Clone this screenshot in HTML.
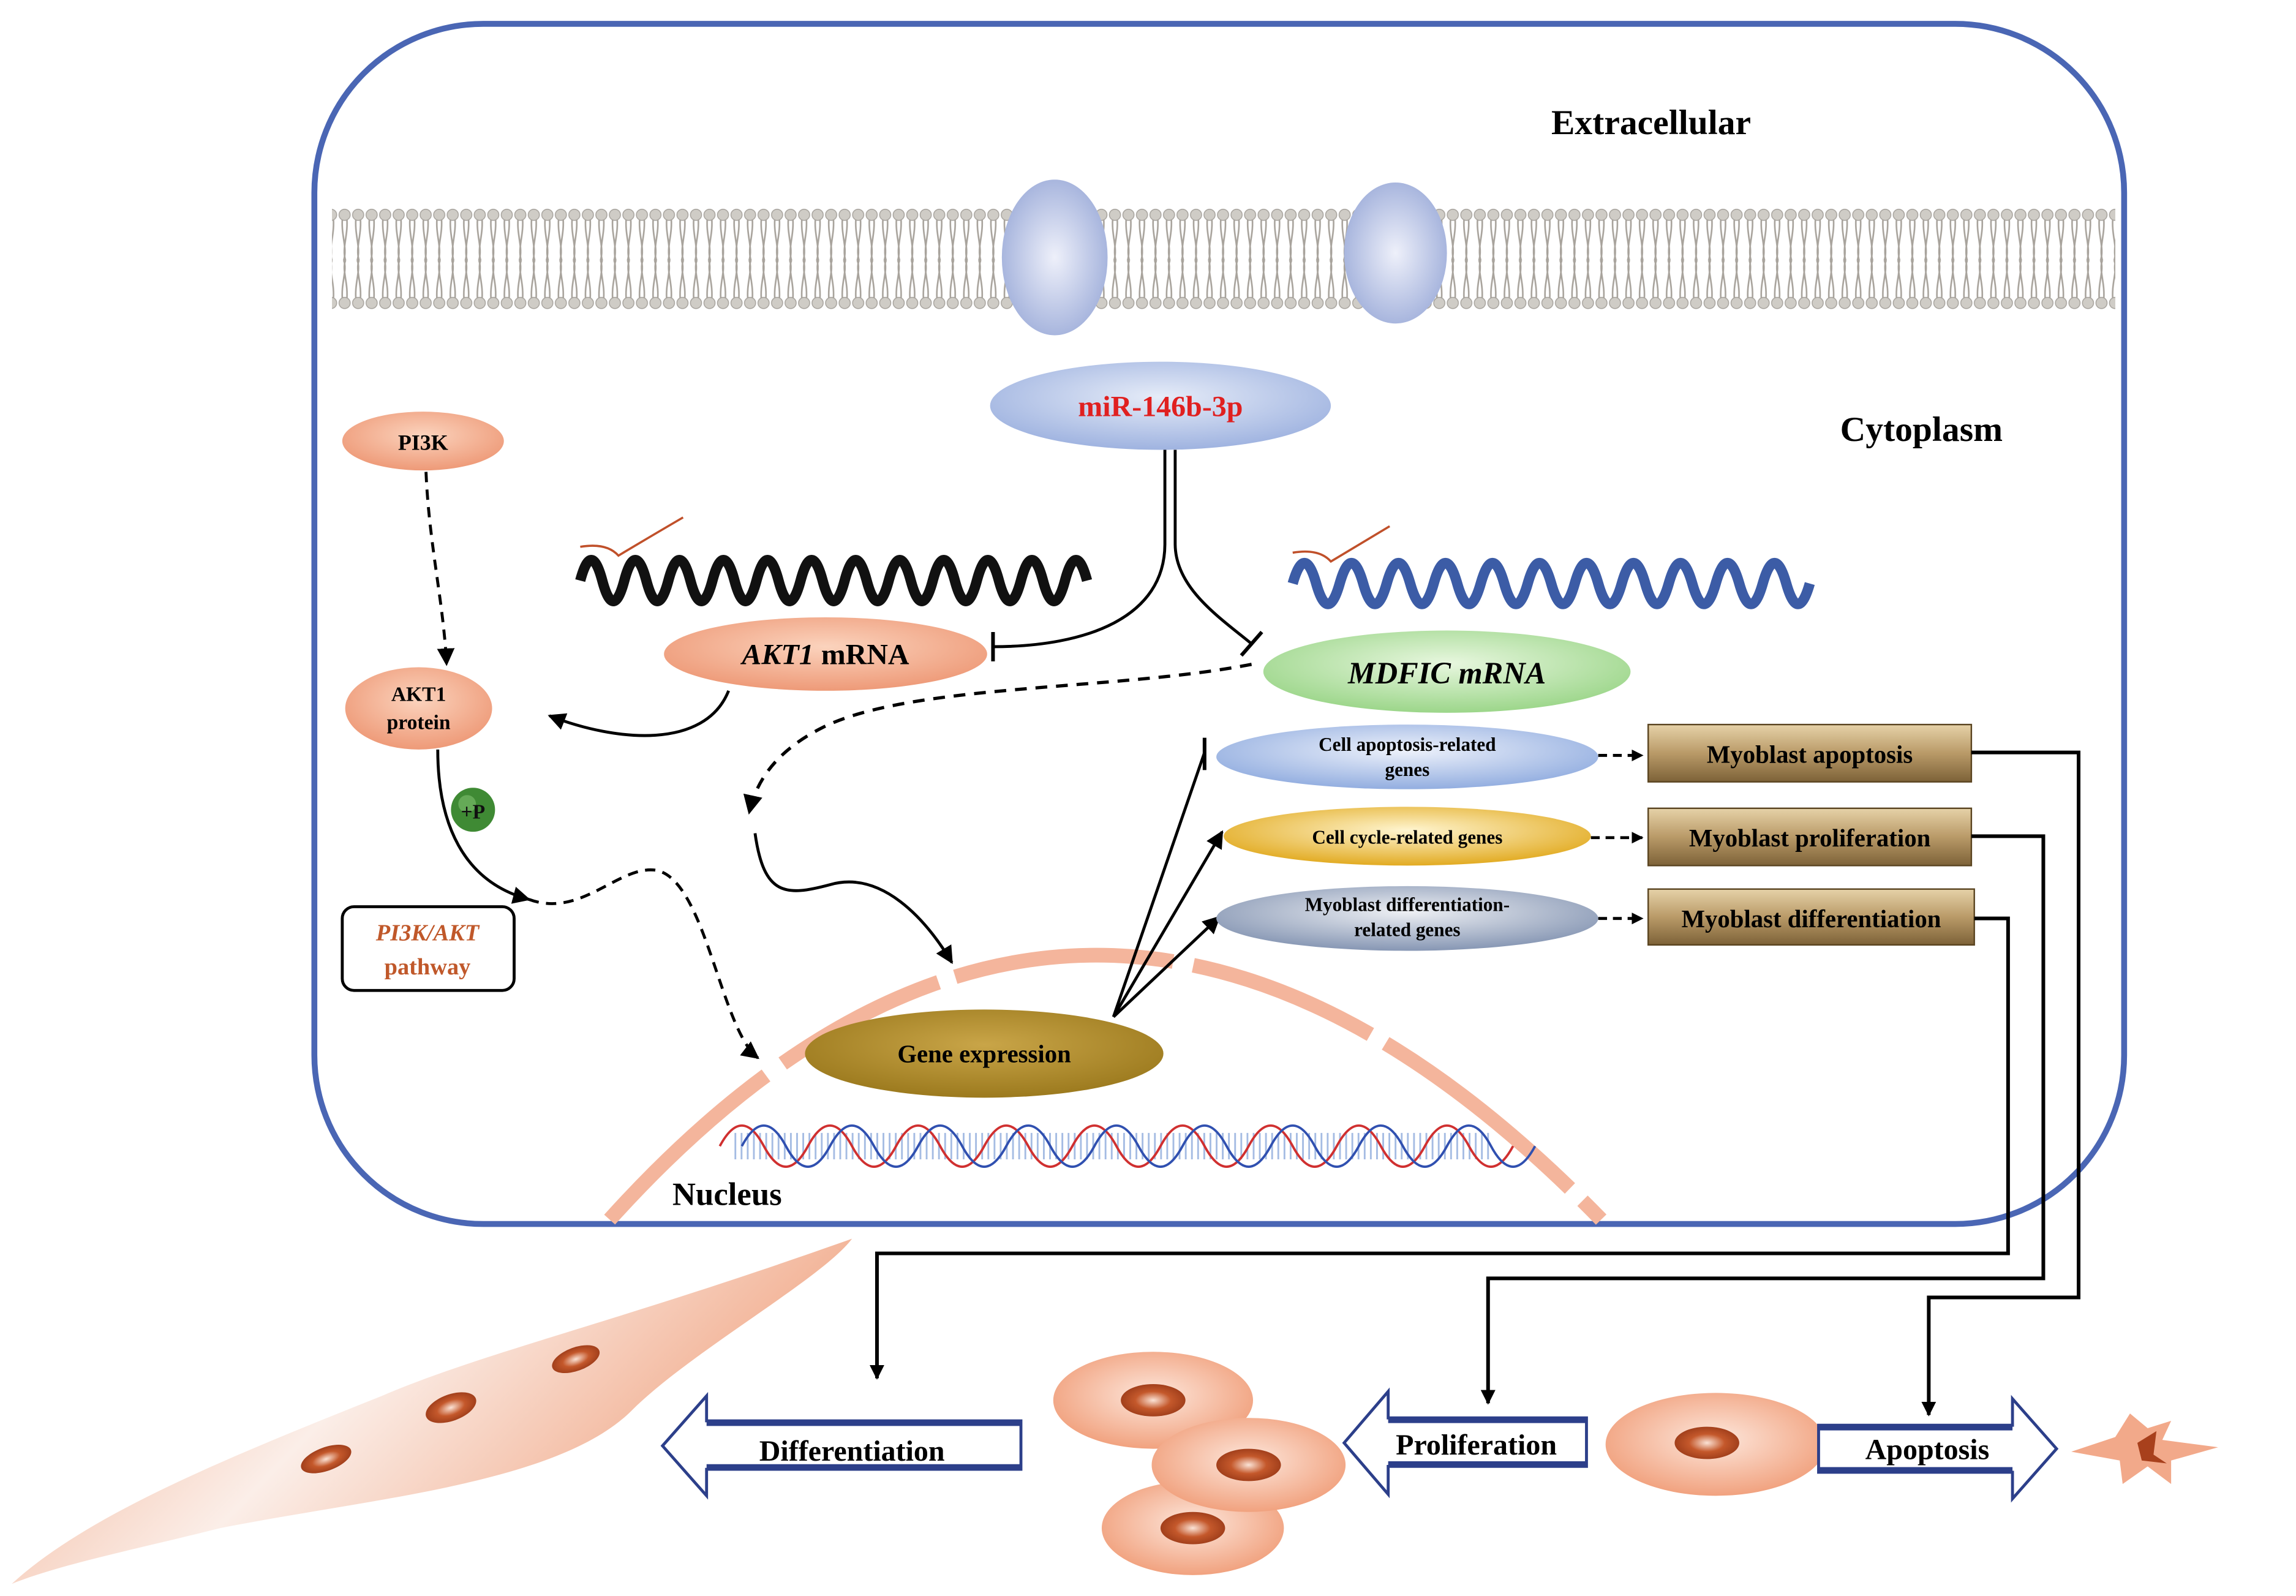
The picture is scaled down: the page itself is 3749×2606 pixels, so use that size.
<!DOCTYPE html>
<html><head><meta charset="utf-8"><style>
html,body{margin:0;padding:0;background:#fff;}
svg{display:block;}
text{font-family:"Liberation Serif",serif;font-weight:bold;}
</style></head><body>
<svg width="3749" height="2606" viewBox="0 0 1563 1086" xmlns="http://www.w3.org/2000/svg">
<defs>
<pattern id="lip" x="0" y="0" width="9.2" height="1086" patternUnits="userSpaceOnUse">
<path d="M3.2,147 C1.8,160 6.7,168 4,177 M6,147 C7.4,160 2.5,168 5.2,177 M3.2,205 C1.8,192 6.7,184 4,177 M6,205 C7.4,192 2.5,184 5.2,177" fill="none" stroke="#a8a39c" stroke-width="1.1"/>
<circle cx="4.6" cy="146" r="3.8" fill="#cfccc6" stroke="#a6a29c" stroke-width="0.6"/>
<circle cx="4.6" cy="206" r="3.8" fill="#cfccc6" stroke="#a6a29c" stroke-width="0.6"/>
</pattern>
<radialGradient id="chan" cx="0.5" cy="0.5" r="0.6"><stop offset="0" stop-color="#eef0fa"/><stop offset="1" stop-color="#9aaad8"/></radialGradient>
<radialGradient id="mir" cx="0.5" cy="0.4" r="0.6"><stop offset="0" stop-color="#e6ecf8"/><stop offset="1" stop-color="#9fb3e0"/></radialGradient>
<radialGradient id="sal" cx="0.5" cy="0.4" r="0.6"><stop offset="0" stop-color="#fbd3bd"/><stop offset="1" stop-color="#ee9a78"/></radialGradient>
<radialGradient id="grn" cx="0.5" cy="0.4" r="0.6"><stop offset="0" stop-color="#e8f7df"/><stop offset="1" stop-color="#9cd68a"/></radialGradient>
<radialGradient id="blu" cx="0.5" cy="0.4" r="0.6"><stop offset="0" stop-color="#eef2fb"/><stop offset="1" stop-color="#93aee0"/></radialGradient>
<radialGradient id="yel" cx="0.5" cy="0.4" r="0.6"><stop offset="0" stop-color="#fff5d0"/><stop offset="1" stop-color="#e2ab22"/></radialGradient>
<radialGradient id="gry" cx="0.5" cy="0.4" r="0.6"><stop offset="0" stop-color="#eef0f4"/><stop offset="1" stop-color="#8797b4"/></radialGradient>
<radialGradient id="gene" cx="0.5" cy="0.4" r="0.6"><stop offset="0" stop-color="#c9a548"/><stop offset="1" stop-color="#9c7a1e"/></radialGradient>
<linearGradient id="box" x1="0" y1="0" x2="0" y2="1"><stop offset="0" stop-color="#e6d2a8"/><stop offset="0.5" stop-color="#b99a68"/><stop offset="1" stop-color="#7d6238"/></linearGradient>
<radialGradient id="cell" cx="0.5" cy="0.45" r="0.55"><stop offset="0" stop-color="#fde7dc"/><stop offset="1" stop-color="#f1a27f"/></radialGradient>
<radialGradient id="nuc" cx="0.5" cy="0.5" r="0.55"><stop offset="0" stop-color="#fbe3d6"/><stop offset="0.5" stop-color="#c4582b"/><stop offset="1" stop-color="#9a3a18"/></radialGradient>
<linearGradient id="tube" x1="0" y1="0" x2="1" y2="0.4"><stop offset="0" stop-color="#f0a27f"/><stop offset="0.5" stop-color="#fbeee8"/><stop offset="1" stop-color="#f0a27f"/></linearGradient>
<marker id="ar" viewBox="0 0 10 10" refX="9" refY="5" markerWidth="6" markerHeight="6" orient="auto"><path d="M0,0 L10,5 L0,10 z" fill="#000"/></marker>
<marker id="ars" viewBox="0 0 10 10" refX="9" refY="5" markerWidth="4" markerHeight="4" orient="auto"><path d="M0,0 L10,5 L0,10 z" fill="#000"/></marker>
</defs>

<rect x="214" y="16" width="1232" height="817" rx="115" fill="#fff" stroke="#4a66b4" stroke-width="4"/>

<rect x="226" y="140" width="1214" height="72" fill="url(#lip)"/>
<ellipse cx="718" cy="175" rx="36" ry="53" fill="url(#chan)"/>
<ellipse cx="950" cy="172" rx="35" ry="48" fill="url(#chan)"/>

<text x="1124" y="91" font-size="24" text-anchor="middle">Extracellular</text>
<text x="1308" y="300" font-size="24" text-anchor="middle">Cytoplasm</text>

<ellipse cx="790" cy="276" rx="116" ry="30" fill="url(#mir)"/>
<text x="790" y="283" font-size="20" fill="#e02020" text-anchor="middle">miR-146b-3p</text>

<ellipse cx="288" cy="300" rx="55" ry="20" fill="url(#sal)"/>
<text x="288" y="306" font-size="15" text-anchor="middle">PI3K</text>
<path d="M290,321 C292,370 302,410 304,452" fill="none" stroke="#000" stroke-width="2" stroke-dasharray="7,5" marker-end="url(#ar)"/>

<ellipse cx="285" cy="482" rx="50" ry="28" fill="url(#sal)"/>
<text x="285" y="477" font-size="14" text-anchor="middle">AKT1</text>
<text x="285" y="496" font-size="14" text-anchor="middle">protein</text>

<path d="M395,395 q7.5,-28 15,0 t15,0 t15,0 t15,0 t15,0 t15,0 t15,0 t15,0 t15,0 t15,0 t15,0 t15,0 t15,0 t15,0 t15,0 t15,0 t15,0 t15,0 t15,0 t15,0 t15,0 t15,0 t15,0" fill="none" stroke="#111" stroke-width="7"/>
<path d="M395,372 q18,-3 26,6 q20,-12 44,-26" fill="none" stroke="#c0502a" stroke-width="1.5"/>
<path d="M880,397 q8,-28 16,0 t16,0 t16,0 t16,0 t16,0 t16,0 t16,0 t16,0 t16,0 t16,0 t16,0 t16,0 t16,0 t16,0 t16,0 t16,0 t16,0 t16,0 t16,0 t16,0 t16,0 t16,0" fill="none" stroke="#3c5ca6" stroke-width="7"/>
<path d="M880,376 q18,-3 26,6 q20,-12 40,-24" fill="none" stroke="#c0502a" stroke-width="1.5"/>

<ellipse cx="562" cy="445" rx="110" ry="25" fill="url(#sal)"/>
<text x="562" y="452" font-size="20" text-anchor="middle"><tspan font-style="italic">AKT1</tspan> mRNA</text>

<ellipse cx="985" cy="457" rx="125" ry="28" fill="url(#grn)"/>
<text x="985" y="465" font-size="21" font-style="italic" text-anchor="middle">MDFIC mRNA</text>

<path d="M793,306 L793,370 C793,420 740,440 676,440" fill="none" stroke="#000" stroke-width="2"/>
<line x1="676" y1="430" x2="676" y2="450" stroke="#000" stroke-width="2.5"/>
<path d="M800,306 L800,370 C800,400 830,420 852,438" fill="none" stroke="#000" stroke-width="2"/>
<line x1="845" y1="446" x2="859" y2="430" stroke="#000" stroke-width="2.5"/>

<path d="M496,470 C480,510 420,505 374,487" fill="none" stroke="#000" stroke-width="2" marker-end="url(#ar)"/>

<path d="M852,452 C760,470 620,465 560,495 C530,510 515,530 510,553" fill="none" stroke="#000" stroke-width="2.2" stroke-dasharray="8,6" marker-end="url(#ar)"/>
<path d="M514,567 C520,610 535,610 565,602 C600,592 630,625 648,655" fill="none" stroke="#000" stroke-width="2" marker-end="url(#ar)"/>

<path d="M298,510 C298,560 315,600 360,612" fill="none" stroke="#000" stroke-width="2" marker-end="url(#ar)"/>
<path d="M360,612 C395,625 420,590 445,592 C480,595 490,700 516,720" fill="none" stroke="#000" stroke-width="2" stroke-dasharray="7,5" marker-end="url(#ar)"/>
<circle cx="322" cy="551" r="15" fill="#3f8a34"/>
<circle cx="318" cy="547" r="6" fill="#7fc070" opacity="0.6"/>
<text x="322" y="557" font-size="14" text-anchor="middle" fill="#111">+P</text>

<rect x="233" y="617" width="117" height="57" rx="8" fill="#fff" stroke="#000" stroke-width="2"/>
<text x="291" y="640" font-size="16" font-style="italic" fill="#c0582a" text-anchor="middle">PI3K/AKT</text>
<text x="291" y="663" font-size="16" fill="#c0582a" text-anchor="middle">pathway</text>

<path d="M415,830 Q740,470 1090,830" fill="none" stroke="#f4b59c" stroke-width="10" stroke-dasharray="145,14,120,12,150,14,130,12,160,12,140,14,200"/>
<text x="495" y="820" font-size="22" text-anchor="middle">Nucleus</text>

<line x1="500" y1="780" x2="1015" y2="780" stroke="#7fa0d8" stroke-width="18" stroke-dasharray="1.2,3" opacity="0.7"/>
<path d="M490,780 q15,-28 30,0 t30,0 t30,0 t30,0 t30,0 t30,0 t30,0 t30,0 t30,0 t30,0 t30,0 t30,0 t30,0 t30,0 t30,0 t30,0 t30,0 t30,0" fill="none" stroke="#d03030" stroke-width="1.6"/>
<path d="M505,780 q15,-28 30,0 t30,0 t30,0 t30,0 t30,0 t30,0 t30,0 t30,0 t30,0 t30,0 t30,0 t30,0 t30,0 t30,0 t30,0 t30,0 t30,0 t30,0" fill="none" stroke="#3050b0" stroke-width="1.6"/>

<ellipse cx="670" cy="717" rx="122" ry="30" fill="url(#gene)"/>
<text x="670" y="723" font-size="17" text-anchor="middle">Gene expression</text>

<line x1="758" y1="692" x2="820" y2="512" stroke="#000" stroke-width="2"/>
<line x1="820" y1="502" x2="820" y2="524" stroke="#000" stroke-width="2.5"/>
<line x1="758" y1="692" x2="832" y2="566" stroke="#000" stroke-width="2" marker-end="url(#ar)"/>
<line x1="758" y1="692" x2="830" y2="624" stroke="#000" stroke-width="2" marker-end="url(#ar)"/>

<ellipse cx="958" cy="515" rx="130" ry="22" fill="url(#blu)"/>
<text x="958" y="511" font-size="13" text-anchor="middle">Cell apoptosis-related</text>
<text x="958" y="528" font-size="13" text-anchor="middle">genes</text>
<ellipse cx="958" cy="569" rx="125" ry="20" fill="url(#yel)"/>
<text x="958" y="574" font-size="13" text-anchor="middle">Cell cycle-related genes</text>
<ellipse cx="958" cy="625" rx="130" ry="22" fill="url(#gry)"/>
<text x="958" y="620" font-size="13" text-anchor="middle">Myoblast differentiation-</text>
<text x="958" y="637" font-size="13" text-anchor="middle">related genes</text>

<line x1="1088" y1="514" x2="1118" y2="514" stroke="#000" stroke-width="2" stroke-dasharray="6,4" marker-end="url(#ars)"/>
<line x1="1083" y1="570" x2="1118" y2="570" stroke="#000" stroke-width="2" stroke-dasharray="6,4" marker-end="url(#ars)"/>
<line x1="1088" y1="625" x2="1118" y2="625" stroke="#000" stroke-width="2" stroke-dasharray="6,4" marker-end="url(#ars)"/>

<rect x="1122" y="493" width="220" height="39" fill="url(#box)" stroke="#5a4420" stroke-width="1"/>
<text x="1232" y="519" font-size="17" text-anchor="middle">Myoblast apoptosis</text>
<rect x="1122" y="550" width="220" height="39" fill="url(#box)" stroke="#5a4420" stroke-width="1"/>
<text x="1232" y="576" font-size="17" text-anchor="middle">Myoblast proliferation</text>
<rect x="1122" y="605" width="222" height="38" fill="url(#box)" stroke="#5a4420" stroke-width="1"/>
<text x="1233" y="631" font-size="17" text-anchor="middle">Myoblast differentiation</text>

<polyline points="1342,512 1415,512 1415,883 1313,883 1313,963" fill="none" stroke="#000" stroke-width="2.5" marker-end="url(#ars)"/>
<polyline points="1342,569 1391,569 1391,870 1013,870 1013,955" fill="none" stroke="#000" stroke-width="2.5" marker-end="url(#ars)"/>
<polyline points="1344,625 1367,625 1367,853 597,853 597,938" fill="none" stroke="#000" stroke-width="2.5" marker-end="url(#ars)"/>

<path d="M580,843 C560,870 470,920 430,960 C380,1010 250,1020 150,1040 C90,1055 40,1065 8,1078 C60,1030 160,990 260,950 C330,920 420,900 580,843 Z" fill="url(#tube)"/>
<ellipse cx="222" cy="993" rx="18" ry="8" fill="url(#nuc)" transform="rotate(-20 222 993)"/>
<ellipse cx="307" cy="958" rx="18" ry="9" fill="url(#nuc)" transform="rotate(-20 307 958)"/>
<ellipse cx="392" cy="925" rx="17" ry="8" fill="url(#nuc)" transform="rotate(-20 392 925)"/>

<ellipse cx="785" cy="953" rx="68" ry="33" fill="url(#cell)"/>
<ellipse cx="785" cy="953" rx="22" ry="11" fill="url(#nuc)"/>
<ellipse cx="812" cy="1040" rx="62" ry="32" fill="url(#cell)"/>
<ellipse cx="812" cy="1040" rx="22" ry="11" fill="url(#nuc)"/>
<ellipse cx="850" cy="997" rx="66" ry="32" fill="url(#cell)"/>
<ellipse cx="850" cy="997" rx="22" ry="11" fill="url(#nuc)"/>
<ellipse cx="1168" cy="983" rx="75" ry="35" fill="url(#cell)"/>
<ellipse cx="1162" cy="982" rx="22" ry="11" fill="url(#nuc)"/>
<path d="M1410,988 L1440,978 L1450,962 L1462,972 L1478,967 L1472,980 L1510,985 L1478,994 L1478,1010 L1462,998 L1445,1010 L1443,994 Z" fill="#f2a98a"/>
<path d="M1455,982 L1468,974 L1466,990 L1475,996 L1458,994 Z" fill="#a8401c"/>

<path d="M695,967 L481,967 L481,950 L451,984 L481,1018 L481,1000 L695,1000 Z" fill="#fff" stroke="#2c3f8a" stroke-width="2"/>
<line x1="481" y1="969" x2="695" y2="969" stroke="#2c3f8a" stroke-width="3"/>
<line x1="481" y1="998" x2="695" y2="998" stroke="#2c3f8a" stroke-width="3"/>
<text x="580" y="994" font-size="20" text-anchor="middle">Differentiation</text>

<path d="M1080,965 L945,965 L945,947 L915,982 L945,1017 L945,998 L1080,998 Z" fill="#fff" stroke="#2c3f8a" stroke-width="2"/>
<line x1="945" y1="967" x2="1080" y2="967" stroke="#2c3f8a" stroke-width="3"/>
<line x1="945" y1="996" x2="1080" y2="996" stroke="#2c3f8a" stroke-width="3"/>
<text x="1005" y="990" font-size="20" text-anchor="middle">Proliferation</text>

<path d="M1238,970 L1370,970 L1370,952 L1400,986 L1370,1020 L1370,1002 L1238,1002 Z" fill="#fff" stroke="#2c3f8a" stroke-width="2"/>
<line x1="1238" y1="972" x2="1370" y2="972" stroke="#2c3f8a" stroke-width="3"/>
<line x1="1238" y1="1000" x2="1370" y2="1000" stroke="#2c3f8a" stroke-width="3"/>
<text x="1312" y="993" font-size="20" text-anchor="middle">Apoptosis</text>
</svg>
</body></html>
